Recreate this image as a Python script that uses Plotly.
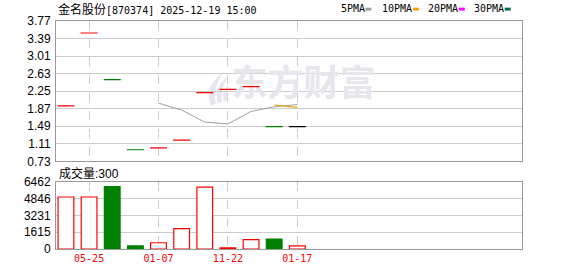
import plotly.graph_objects as go

# ---------------- data ----------------
title_text = "金名股份[870374] 2025-12-19 15:00"
candle_idx = list(range(11))
close = [1.93, 3.51, 2.50, 0.98, 1.02, 1.19, 2.22, 2.29, 2.35, 1.48, 1.48]
volume = [5000, 5000, 6000, 300, 600, 1950, 5950, 100, 900, 950, 300]
ma5_idx = [4, 5, 6, 7, 8, 9, 10]
ma5 = [1.99, 1.84, 1.58, 1.54, 1.81, 1.91, 1.96]
ma10_idx = [9, 10]
ma10 = [1.95, 1.90]
price_ticks = [0.73, 1.11, 1.49, 1.87, 2.25, 2.63, 3.01, 3.39, 3.77]
vol_ticks = [0, 1615, 3231, 4846, 6462]
x_tick_pos = [1, 4, 7, 10]
x_tick_labels = ["05-25", "01-07", "11-22", "01-17"]
legend_names = ["5PMA", "10PMA", "20PMA", "30PMA"]
legend_colors = ["#a0a0a0", "#f0a30a", "#ff00ff", "#00703c"]
last_volume = 300

# ---------------- styling / layout helpers ----------------
RED, GREEN, BLACK = "#ff0000", "#008000", "#000000"
W, H = 578, 276
L, R, T, B = 56, 522, 21, 255
X_RANGE = [-0.43, 19.71]
P_RANGE = [0.73, 3.77]
WM = "#e6e6ec"

def px(x):
    return (x - L) / (R - L)

def py(y):
    return (B - y) / (B - T)

def data_x(xpix):
    return X_RANGE[0] + (xpix - L) / (R - L) * (X_RANGE[1] - X_RANGE[0])

def data_p(ypix):
    top, bot = 21, 165
    return P_RANGE[1] - (ypix - top) / (bot - top) * (P_RANGE[1] - P_RANGE[0])

candle_colors = []
vol_fill = []
vol_line = []
for i, c in enumerate(close):
    prev = close[i - 1] if i > 0 else None
    if prev is None or c > prev:
        candle_colors.append(RED)
    elif c < prev:
        candle_colors.append(GREEN)
    else:
        candle_colors.append(BLACK)
    if prev is not None and c < prev:
        vol_fill.append(GREEN)
        vol_line.append(GREEN)
    else:
        vol_fill.append("#ffffff")
        vol_line.append(RED)

fig = go.Figure()

# watermark (behind the data)
fig.add_trace(go.Scatter(
    x=[data_x(303.5)], y=[data_p(89)], mode="text", text=["东方财富"],
    textfont=dict(family="Noto Sans CJK SC", size=36, color=WM, weight="bold"),
    xaxis="x", yaxis="y", hoverinfo="skip", cliponaxis=False,
))

# MA lines
fig.add_trace(go.Scatter(x=ma5_idx, y=ma5, mode="lines",
                         line=dict(color="#a0a0a0", width=1), xaxis="x", yaxis="y"))
fig.add_trace(go.Scatter(x=ma10_idx, y=ma10, mode="lines",
                         line=dict(color="#f0a30a", width=1.2), xaxis="x", yaxis="y"))

# candles (flat: open = close = high = low)
fig.add_trace(go.Scatter(
    x=candle_idx, y=close, mode="markers",
    marker=dict(symbol="line-ew", size=12.2, line=dict(width=1.2, color=candle_colors)),
    xaxis="x", yaxis="y",
))

# volume
fig.add_trace(go.Bar(
    x=candle_idx, y=volume, width=0.68,
    marker=dict(color=vol_fill, line=dict(color=vol_line, width=1.2)),
    xaxis="x2", yaxis="y2",
))

mono = "DejaVu Sans Mono"
axis_common = dict(showline=True, mirror=True, linecolor="#999999", linewidth=1,
                   zeroline=False, ticks="")

fig.update_layout(
    width=W, height=H,
    margin=dict(l=L, r=W - R, t=T, b=H - B),
    paper_bgcolor="white", plot_bgcolor="white",
    showlegend=False,
    xaxis=dict(domain=[0, 1], anchor="y", range=X_RANGE, tickvals=x_tick_pos,
               showticklabels=False, showgrid=True, gridcolor="#cccccc",
               griddash="dash", gridwidth=1, **axis_common),
    yaxis=dict(domain=[py(165), 1], anchor="x", range=P_RANGE, tickvals=price_ticks,
               ticktext=[f"{v:.2f}" for v in price_ticks], showgrid=True,
               gridcolor="#cccccc", ticklabelstandoff=2,
               tickfont=dict(family="Liberation Sans, Arial", size=12, color="#000000"),
               **axis_common),
    xaxis2=dict(domain=[0, 1], anchor="y2", range=X_RANGE, matches="x",
                tickvals=x_tick_pos, ticktext=x_tick_labels, showgrid=True,
                gridcolor="#cccccc", griddash="dash", gridwidth=1,
                tickfont=dict(family=mono, size=10, color=RED), **axis_common),
    yaxis2=dict(domain=[0, py(186)], anchor="x2", range=[0, vol_ticks[-1]],
                tickvals=vol_ticks, ticktext=[str(v) for v in vol_ticks],
                showgrid=True, gridcolor="#cccccc", ticklabelstandoff=2,
                tickfont=dict(family="Liberation Sans, Arial", size=12, color="#000000"),
                **axis_common),
)

annotations = []
# title
cjk = title_text[:4]
rest = title_text[4:]
annotations.append(dict(
    x=px(56), y=py(8.5), xref="paper", yref="paper", xanchor="left", yanchor="middle",
    showarrow=False,
    text=f'<span style="font-family:Noto Sans CJK SC;font-size:12px">{cjk}</span>{rest}',
    font=dict(family=mono, size=10, color="#000000"),
))
# legend
leg_text_x = [339, 380.3, 425.7, 471.7]
leg_box_x = [365.3, 413, 458.7, 504.7]
shapes = []
for name, col, tx, bx in zip(legend_names, legend_colors, leg_text_x, leg_box_x):
    annotations.append(dict(
        x=px(tx), y=py(8.5), xref="paper", yref="paper", xanchor="left",
        yanchor="middle", showarrow=False, text=name,
        font=dict(family=mono, size=10, color="#000000"),
    ))
    shapes.append(dict(type="rect", xref="paper", yref="paper",
                       x0=px(bx), x1=px(bx + 6), y0=py(10.3), y1=py(7.3),
                       fillcolor=col, line=dict(width=0)))

# watermark logo (feather strokes)
def pth(pts):
    s = ""
    for cmd, coords in pts:
        s += cmd + " " + " ".join(f"{px(coords[k]):.4f},{py(coords[k+1]):.4f}"
                                 for k in range(0, len(coords), 2)) + " "
    return s + "Z"

logo_paths = [
    [("M", (211, 108)), ("Q", (203, 88, 224, 73)), ("Q", (212, 90, 216, 106))],
    [("M", (218, 106)), ("Q", (212, 90, 228, 78)), ("Q", (220, 92, 222, 104))],
    [("M", (224, 104)), ("Q", (221, 94, 229, 86)), ("Q", (226, 95, 227, 102))],
]
for lp in logo_paths:
    shapes.append(dict(type="path", xref="paper", yref="paper", path=pth(lp),
                       fillcolor=WM, line=dict(width=0), layer="below"))

# volume label
annotations.append(dict(
    x=px(57), y=py(177), xref="paper", yref="paper", xanchor="left", yanchor="middle",
    showarrow=False, text=f"成交量:{last_volume}",
    font=dict(family="Liberation Sans, Noto Sans CJK SC", size=12, color="#000000"),
))

fig.update_layout(annotations=annotations, shapes=shapes)
fig.write_html("out.html")
